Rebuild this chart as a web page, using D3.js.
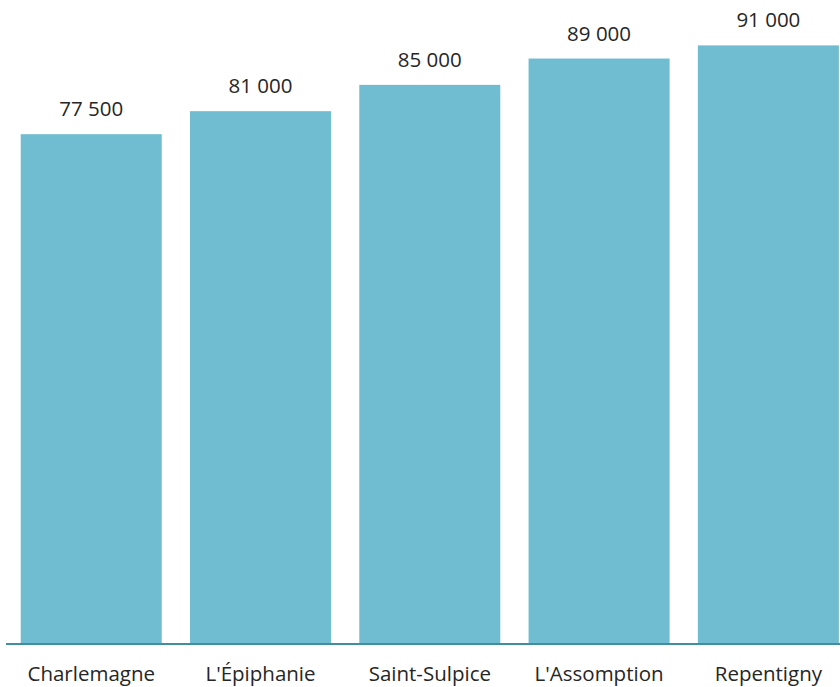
<!DOCTYPE html>
<html>
<head>
<meta charset="UTF-8">
<script src="https://d3js.org/d3.v7.min.js"></script>
<style>
  body { margin: 0; background: #fff; }
  svg { display: block; }
  text { font-family: "Open Sans", sans-serif; fill: #262626; }
</style>
</head>
<body>
<script>
var width = 840, height = 687;

// data
var categories = ["Charlemagne", "L'Épiphanie", "Saint-Sulpice", "L'Assomption", "Repentigny"];
var values = [77500, 81000, 85000, 89000, 91000];
var valueLabels = ["77 500", "81 000", "85 000", "89 000", "91 000"];

var baseY = 644;

var svg = d3.select('body').append('svg')
  .attr('width', width).attr('height', height);

var x = d3.scaleBand()
  .domain(categories)
  .range([6, 853.6])
  .paddingInner(0.167)
  .paddingOuter(0.087);

var y = d3.scaleLinear()
  .domain([0, 97900])
  .range([baseY, 0]);

// bars
svg.selectAll('rect.bar')
  .data(values)
  .join('rect')
  .attr('class', 'bar')
  .attr('x', function(d, i) { return x(categories[i]); })
  .attr('y', function(d) { return y(d); })
  .attr('width', x.bandwidth())
  .attr('height', function(d) { return y(0) - y(d); })
  .attr('fill', '#70bcd1');

// value labels
svg.selectAll('text.val')
  .data(values)
  .join('text')
  .attr('class', 'val')
  .attr('x', function(d, i) { return x(categories[i]) + x.bandwidth() / 2; })
  .attr('y', function(d) { return y(d) - 18; })
  .attr('text-anchor', 'middle')
  .style('font-size', '20.5px')
  .text(function(d, i) { return valueLabels[i]; });

// axis
var axis = svg.append('g')
  .attr('transform', 'translate(0,' + baseY + ')')
  .call(d3.axisBottom(x).tickSize(0).tickPadding(22));
axis.select('.domain').remove();
axis.selectAll('text')
  .style('font-size', '20.5px')
  .style('font-family', '"Open Sans", sans-serif')
  .attr('fill', '#262626');

svg.append('line')
  .attr('x1', 6).attr('x2', width)
  .attr('y1', baseY).attr('y2', baseY)
  .attr('stroke', '#3f8ea3')
  .attr('stroke-width', 2);
</script>
</body>
</html>
